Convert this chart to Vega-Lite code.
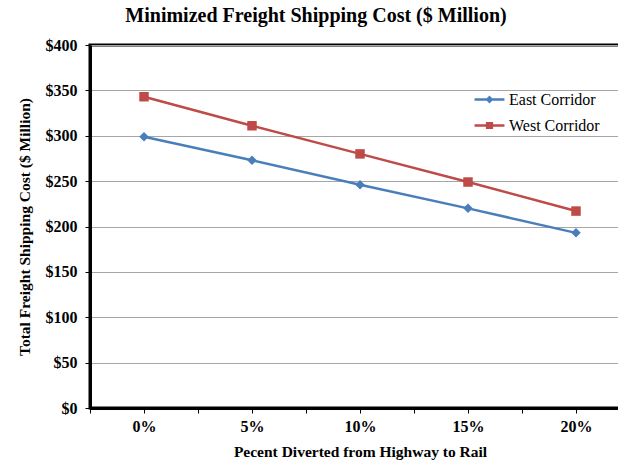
{
  "$schema": "https://vega.github.io/schema/vega-lite/v6.json",
  "autosize": "none",
  "padding": {"left": 90, "top": 45, "right": 0, "bottom": 54},
  "width": 540,
  "height": 363,
  "background": "white",
  "config": {
    "font": "Liberation Serif",
    "view": {"stroke": "black", "strokeWidth": 3},
    "legend": {"labelFont": "Liberation Serif"}
  },
  "title": {
    "text": "Minimized Freight Shipping Cost ($ Million)",
    "font": "Liberation Serif",
    "fontSize": 20,
    "fontWeight": "bold",
    "anchor": "middle",
    "frame": "group",
    "dx": -44,
    "offset": 11,
    "color": "black"
  },
  "data": {
    "values": [
      {"pct": 0, "cost": 299, "series": "East Corridor"},
      {"pct": 5, "cost": 273, "series": "East Corridor"},
      {"pct": 10, "cost": 246, "series": "East Corridor"},
      {"pct": 15, "cost": 220, "series": "East Corridor"},
      {"pct": 20, "cost": 193, "series": "East Corridor"},
      {"pct": 0, "cost": 343, "series": "West Corridor"},
      {"pct": 5, "cost": 311, "series": "West Corridor"},
      {"pct": 10, "cost": 280, "series": "West Corridor"},
      {"pct": 15, "cost": 249, "series": "West Corridor"},
      {"pct": 20, "cost": 217, "series": "West Corridor"}
    ]
  },
  "encoding": {
    "x": {
      "field": "pct",
      "type": "quantitative",
      "scale": {"domain": [-2.5, 22.5], "nice": false, "zero": false},
      "axis": {
        "title": "Pecent Diverted from Highway to Rail",
        "titleFont": "Liberation Serif",
        "titleFontSize": 15.5,
        "titleFontWeight": "bold",
        "titleColor": "black",
        "titlePadding": 10,
        "values": [-2.5, 0, 2.5, 5, 7.5, 10, 12.5, 15, 17.5, 20, 22.5],
        "labelExpr": "datum.value % 5 == 0 ? datum.value + '%' : ''",
        "labelFont": "Liberation Serif",
        "labelFontSize": 16,
        "labelFontWeight": "bold",
        "labelColor": "black",
        "labelPadding": 5,
        "labelFlush": false,
        "labelOverlap": false,
        "grid": false,
        "domainColor": "black",
        "domainWidth": 3,
        "tickColor": "black",
        "tickSize": 5,
        "tickWidth": 1
      }
    },
    "y": {
      "field": "cost",
      "type": "quantitative",
      "scale": {"domain": [0, 400], "nice": false},
      "axis": {
        "title": "Total Freight Shipping Cost ($ Million)",
        "titleFont": "Liberation Serif",
        "titleFontSize": 15.5,
        "titleFontWeight": "bold",
        "titleColor": "black",
        "titlePadding": 13,
        "values": [0, 50, 100, 150, 200, 250, 300, 350, 400],
        "format": "$.0f",
        "labelFont": "Liberation Serif",
        "labelFontSize": 16,
        "labelFontWeight": "bold",
        "labelColor": "black",
        "labelPadding": 8,
        "grid": true,
        "gridColor": "#a6a6a6",
        "gridWidth": 1,
        "domainColor": "black",
        "domainWidth": 3,
        "tickColor": "black",
        "tickSize": 5,
        "tickWidth": 1
      }
    },
    "color": {
      "field": "series",
      "type": "nominal",
      "scale": {"domain": ["East Corridor", "West Corridor"], "range": ["#4A7EBB", "#BE4B48"]},
      "legend": {
        "title": null,
        "orient": "none",
        "legendX": 385,
        "legendY": 40,
        "labelFont": "Liberation Serif",
        "labelFontSize": 16,
        "labelColor": "black",
        "rowPadding": 3,
        "symbolSize": 676,
        "symbolStrokeWidth": 2.5,
        "labelOffset": 5,
        "encode": {
          "symbols": {
            "update": {
              "shape": {"signal": "datum.value === 'East Corridor' ? 'M-1.15,0H1.15M0,-0.17L0.17,0L0,0.17L-0.17,0Z' : 'M-1.15,0H1.15M-0.18,-0.18H0.18V0.18H-0.18Z'"},
              "stroke": {"scale": "color", "field": "value"},
              "fill": {"scale": "color", "field": "value"},
              "strokeWidth": {"value": 2.5},
              "opacity": {"value": 1}
            }
          },
          "labels": {
            "update": {
              "font": {"value": "'Liberation Serif', 'DejaVu Serif', serif"}
            }
          }
        }
      }
    }
  },
  "layer": [
    {
      "mark": {"type": "line", "strokeWidth": 2.5}
    },
    {
      "transform": [{"filter": "datum.series === 'East Corridor'"}],
      "mark": {"type": "point", "shape": "diamond", "filled": true, "opacity": 1, "size": 90}
    },
    {
      "transform": [{"filter": "datum.series === 'West Corridor'"}],
      "mark": {"type": "point", "shape": "square", "filled": true, "opacity": 1, "size": 90}
    }
  ]
}
